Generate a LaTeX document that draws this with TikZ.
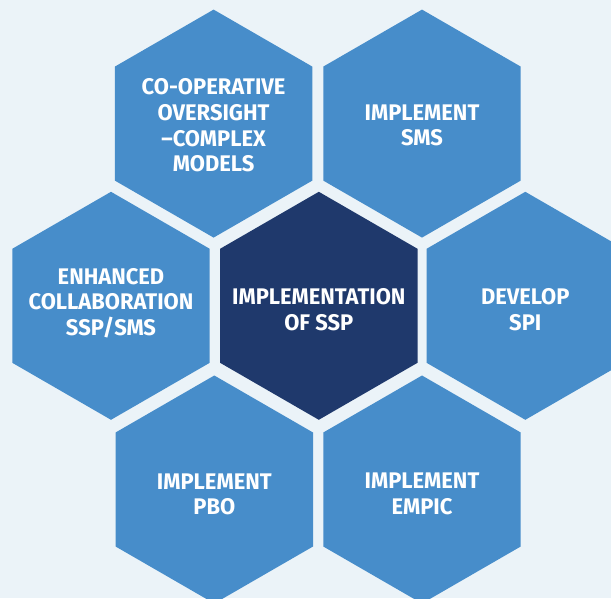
\documentclass[tikz,border=0pt]{standalone}
\usepackage{fontspec}
\setmainfont{Fira Sans}[FakeStretch=0.97]
\usetikzlibrary{shapes.geometric}
\definecolor{bgc}{HTML}{EBF3F8}
\definecolor{hexblue}{HTML}{478DCA}
\definecolor{hexnavy}{HTML}{1F396C}
\tikzset{
  x=1pt,y=1pt,
  hexcell/.style={regular polygon, regular polygon sides=6, shape border rotate=30,
    minimum size=228pt, inner sep=0pt, fill=hexblue, draw=none},
  hexcore/.style={hexcell, fill=hexnavy},
  hexlabel/.style={text=white, align=center, font=\bfseries\fontsize{22.6}{25.7}\selectfont}
}
\begin{document}
\begin{tikzpicture}
\fill[bgc] (0,0) rectangle (611,598);
\useasboundingbox (0,0) rectangle (611,598);
% hexagons (y = 598 - pixel y)
\node[hexcell] (tl) at (213.6,474.4) {};
\node[hexcell] (tr) at (422,474.4) {};
\node[hexcell] (l) at (111,292.2) {};
\node[hexcore] (c) at (318.8,292.2) {};
\node[hexcell] (r) at (525.3,292.2) {};
\node[hexcell] (bl) at (214.3,108.5) {};
\node[hexcell] (br) at (422,108.5) {};
% labels
\node[hexlabel] (tlt) at (213.6,472.5) {CO-OPERATIVE\\OVERSIGHT\\–COMPLEX\\MODELS};
\node[hexlabel] (trt) at (422,472.5) {IMPLEMENT\\SMS};
\node[hexlabel] (lt) at (111,295) {ENHANCED\\COLLABORATION\\SSP/SMS};
\node[hexlabel] (ct) at (318.8,288) {IMPLEMENTATION\\OF SSP};
\node[hexlabel] (rt) at (525.3,288) {DEVELOP\\SPI};
\node[hexlabel] (blt) at (214.3,103.5) {IMPLEMENT\\PBO};
\node[hexlabel] (brt) at (422,104) {IMPLEMENT\\EMPIC};
\end{tikzpicture}
\end{document}
